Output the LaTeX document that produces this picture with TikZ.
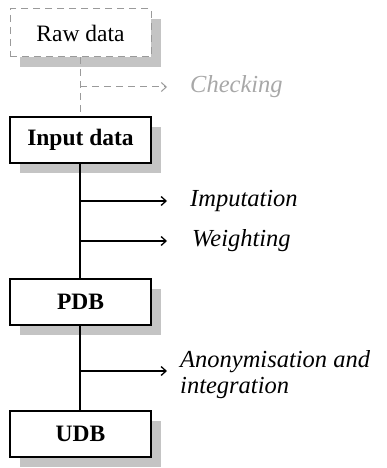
\documentclass[tikz,border=0pt]{standalone}
\usepackage{fontspec}
\setmainfont{Liberation Serif}
\usetikzlibrary{shadows,arrows.meta}
\definecolor{shadowgray}{HTML}{C4C4C4}
\definecolor{linegray}{HTML}{9A9A9A}
\definecolor{textgray}{HTML}{A8A8A8}
\begin{document}
\begin{tikzpicture}[x=1pt,y=-1pt,
  box/.style={draw=black, line width=1.3pt, fill=white, minimum width=141pt, minimum height=46pt,
    inner sep=0pt, font=\fontsize{23.5}{26}\selectfont\bfseries,
    drop shadow={shadow xshift=10pt, shadow yshift=-10pt, fill=shadowgray, opacity=1}},
  rawbox/.style={box, draw=linegray, dash pattern=on 7pt off 5pt, line width=1pt, font=\fontsize{23.5}{26}\selectfont, minimum height=48pt},
  flow/.style={line width=1.3pt, black},
  branch/.style={line width=1.3pt, -{Straight Barb[length=5pt,width=9pt]}},
  lbl/.style={anchor=west, inner sep=0pt, font=\fontsize{24.5}{26}\selectfont\itshape, align=left}
]
\useasboundingbox (0,0) rectangle (386,468);
\node[rawbox] (raw) at (80.5,33) {Raw data};
\node[box] (input) at (80.5,140) {Input data};
\node[box] (pdb) at (80.5,302) {PDB};
\node[box] (udb) at (80.5,434) {UDB};

\draw[linegray, dash pattern=on 7pt off 5pt, line width=1pt] (raw.south -| 80,0) -- (input.north -| 80,0);
\draw[flow] (input.south -| 80,0) -- (pdb.north -| 80,0);
\draw[flow] (pdb.south -| 80,0) -- (udb.north -| 80,0);

\coordinate (c0) at (80,87);
\coordinate (c1) at (80,201);
\coordinate (c2) at (80,241);
\coordinate (c3) at (80,371);
\coordinate (e0) at (167,87);
\coordinate (e1) at (167,201);
\coordinate (e2) at (167,241);
\coordinate (e3) at (167,371);
\draw[branch, linegray, dash pattern=on 7pt off 5pt, line width=1pt] (c0) -- (e0);
\draw[branch] (c1) -- (e1);
\draw[branch] (c2) -- (e2);
\draw[branch] (c3) -- (e3);

\node[lbl, text=textgray] (chk) at (190,87) {Checking};
\node[lbl] (imp) at (190,201) {Imputation};
\node[lbl] (wei) at (192,241) {Weighting};
\node[lbl] (ano) at (180,375) {Anonymisation and\\integration};
\end{tikzpicture}
\end{document}
